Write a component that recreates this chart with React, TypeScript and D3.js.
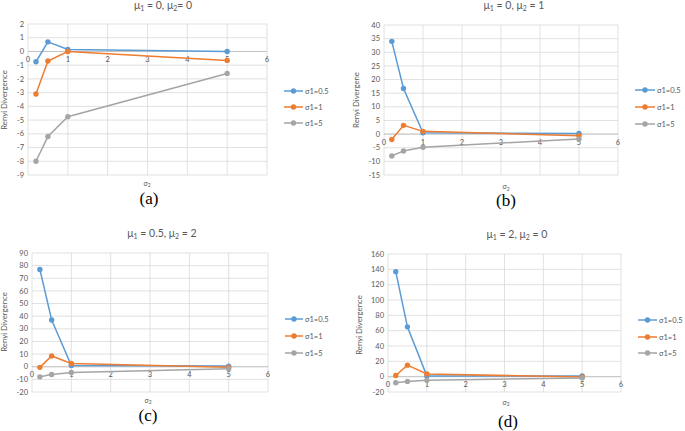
import React from "react";
import * as d3 from "d3";

const sigma2 = [0.2, 0.5, 1, 5];
const seriesNames = ["σ1=0.5", "σ1=1", "σ1=5"];
const seriesColors = ["#5B9BD5", "#ED7D31", "#A5A5A5"];

const titlesMain = [["μ", "1", " = 0, ", "μ", "2", "= 0"], ["μ", "1", " = 0, ", "μ", "2", " = 1"], ["μ", "1", " = 0.5, ", "μ", "2", " = 2"], ["μ", "1", " = 2, ", "μ", "2", " = 0"]];
const yLabels = ["Renyi Divergence", "Renyi Divergene", "Renyi Divergence", "Renyi Divergence"];
const captions = ["(a)", "(b)", "(c)", "(d)"];

const aBlue = [-0.75, 0.7, 0.15, 0];
const aOrange = [-3.1, -0.7, 0, -0.65];
const aGray = [-8, -6.2, -4.75, -1.6];

const bBlue = [34, 16.7, 0.5, 0.2];
const bOrange = [-2, 3.2, 1, -0.6];
const bGray = [-8, -6.2, -4.8, -1.8];

const cBlue = [77, 37, 1, 0.5];
const cOrange = [-0.5, 8.5, 2.5, -0.5];
const cGray = [-8, -6.2, -4.6, -1.6];

const dBlue = [137, 65, 1, 1];
const dOrange = [1.5, 15, 3.5, -0.5];
const dGray = [-8, -6.2, -4.8, -1.6];

const panelData = [
  [aBlue, aOrange, aGray],
  [bBlue, bOrange, bGray],
  [cBlue, cOrange, cGray],
  [dBlue, dOrange, dGray],
];
const yDomains = [[-9, 2], [-15, 40], [-20, 90], [-20, 160]];
const yStep = [1, 5, 10, 20];
const xTicks = [0, 1, 2, 3, 4, 5, 6];

const layouts = [
  { x0: 28, x1: 267, y0: 24, y1: 175, tx: 163, ty: 9, ylx: 7, yly: 100, xlx: 147, xly: 185.5, cx: 149, cy: 204, lx0: 284, lx1: 303, ltx: 305, lrows: [91, 107, 123] },
  { x0: 384, x1: 618, y0: 25, y1: 175, tx: 514, ty: 9, ylx: 359, yly: 100, xlx: 506, xly: 189, cx: 506, cy: 206, lx0: 635, lx1: 655, ltx: 657, lrows: [90, 107, 124] },
  { x0: 32, x1: 268, y0: 253, y1: 392, tx: 162, ty: 237, ylx: 7, yly: 322, xlx: 148, xly: 402.5, cx: 148, cy: 421, lx0: 285, lx1: 303, ltx: 305, lrows: [319, 336, 353] },
  { x0: 388, x1: 621, y0: 254, y1: 392, tx: 517, ty: 238, ylx: 362, yly: 325, xlx: 506, xly: 404.5, cx: 508, cy: 427, lx0: 638, lx1: 657, ltx: 659, lrows: [320, 337, 353] },
];

const FONT = "Lato, 'Open Sans', sans-serif";
const TXT = "#595959";

function Panel({ i }: { i: number }) {
  const L = layouts[i];
  const x = d3.scaleLinear().domain([0, 6]).range([L.x0, L.x1]);
  const y = d3.scaleLinear().domain(yDomains[i]).range([L.y1, L.y0]);
  const yt = d3.range(yDomains[i][0], yDomains[i][1] + 0.001, yStep[i]);
  const line = d3.line<number>().x((_, k) => x(sigma2[k])).y((v) => y(v));
  const t = titlesMain[i];
  return (
    <g>
      {yt.map((v) => (
        <line key={"h" + v} x1={L.x0} x2={L.x1} y1={y(v)} y2={y(v)} stroke="#D9D9D9" strokeWidth={0.8} />
      ))}
      {xTicks.map((v) => (
        <line key={"v" + v} x1={x(v)} x2={x(v)} y1={L.y0} y2={L.y1} stroke="#D9D9D9" strokeWidth={0.8} />
      ))}
      <line x1={L.x0} x2={L.x1} y1={y(0)} y2={y(0)} stroke="#BFBFBF" strokeWidth={0.9} />
      {yt.map((v) => (
        <text key={"yl" + v} x={L.x0 - 4} y={y(v) + 2.6} fontSize={7.5} fill={TXT} textAnchor="end" fontFamily={FONT}>
          {v}
        </text>
      ))}
      {xTicks.map((v) => (
        <text key={"xl" + v} x={x(v)} y={y(0) + 10.5} fontSize={7.5} fill={TXT} textAnchor="middle" fontFamily={FONT}>
          {v}
        </text>
      ))}
      {panelData[i].map((s, k) => (
        <g key={"s" + k}>
          <path d={line(s) || ""} fill="none" stroke={seriesColors[k]} strokeWidth={1.5} />
          {s.map((v, j) => (
            <circle key={j} cx={x(sigma2[j])} cy={y(v)} r={2.7} fill={seriesColors[k]} />
          ))}
        </g>
      ))}
      <text x={L.tx} y={L.ty} fontSize={10.5} fill={TXT} textAnchor="middle" fontFamily={FONT}>
        <tspan>{t[0]}</tspan>
        <tspan fontSize={7} dy={2}>{t[1]}</tspan>
        <tspan dy={-2}>{t[2]}</tspan>
        <tspan>{t[3]}</tspan>
        <tspan fontSize={7} dy={2}>{t[4]}</tspan>
        <tspan dy={-2}>{t[5]}</tspan>
      </text>
      <text transform={`translate(${L.ylx},${L.yly}) rotate(-90)`} fontSize={7.8} fill={TXT} textAnchor="middle" fontFamily={FONT}>
        {yLabels[i]}
      </text>
      <text x={L.xlx} y={L.xly} fontSize={7} fill={TXT} textAnchor="middle" fontFamily={FONT}>
        <tspan>σ</tspan>
        <tspan fontSize={5} dy={1.5}>2</tspan>
      </text>
      <text x={L.cx} y={L.cy} fontSize={17} fill="#000" textAnchor="middle" fontFamily="'Liberation Serif', 'DejaVu Serif', serif">
        {captions[i]}
      </text>
      {seriesNames.map((n, k) => (
        <g key={"lg" + k}>
          <line x1={L.lx0} x2={L.lx1} y1={L.lrows[k]} y2={L.lrows[k]} stroke={seriesColors[k]} strokeWidth={1.5} />
          <circle cx={(L.lx0 + L.lx1) / 2} cy={L.lrows[k]} r={2.7} fill={seriesColors[k]} />
          <text x={L.ltx} y={L.lrows[k] + 2.7} fontSize={7.5} fill={TXT} fontFamily={FONT}>
            {n}
          </text>
        </g>
      ))}
    </g>
  );
}

export default function App() {
  return (
    <svg width={685} height={431} style={{ position: "absolute", left: 0, top: 0, background: "#fff" }}>
      <rect width={685} height={431} fill="#fff" />
      {layouts.map((_, i) => (
        <Panel key={i} i={i} />
      ))}
    </svg>
  );
}
